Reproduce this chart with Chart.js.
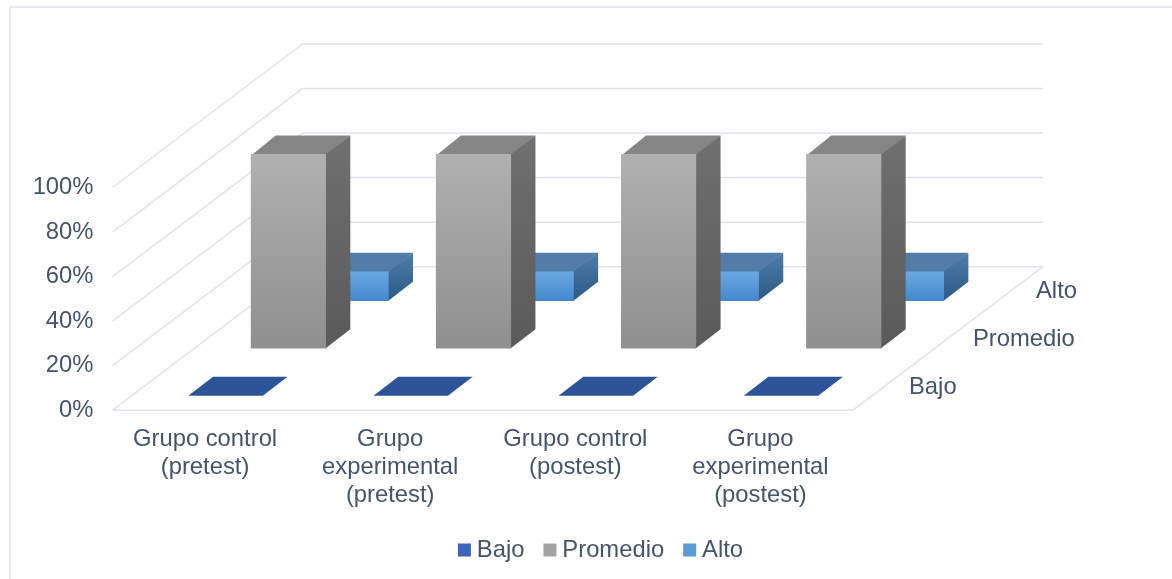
<!DOCTYPE html>
<html>
<head>
<meta charset="utf-8">
<script src="https://cdn.jsdelivr.net/npm/chart.js@4"></script>
<style>html,body{margin:0;padding:0;background:#fff}canvas{display:block}</style>
</head>
<body>
<canvas id="c" width="1172" height="579"></canvas>
<script>
const categories = [["Grupo control","(pretest)"],["Grupo","experimental","(pretest)"],["Grupo control","(postest)"],["Grupo","experimental","(postest)"]];
const seriesNames = ["Bajo","Promedio","Alto"];
const bajo = [0,0,0,0];
const promedio = [87,87,87,87];
const alto = [13,13,13,13];
const yTicks = [0,20,40,60,80,100];

const TEXT = "#44546A", GRID = "#DFE3EA", FONT = "'Liberation Sans', Arial, sans-serif", SIZE = 23.8;
const depthOffset = [{x:20.5,y:-14.5},{x:83.3,y:-62},{x:146,y:-109.5}];
const barDepth = {x:24.7,y:-19};
const wall = {x:190,y:-143.5};
const legendShift = 177;
const faces = [
  {top:"#2C5497",front:["#3C66BB","#3C66BB"],side:["#2C5497","#2C5497"],legend:"#3C66BB"},
  {top:"#858585",front:["#B0B0B0","#8F8F8F"],side:["#707070","#5A5A5A"],legend:"#A3A3A3"},
  {top:"#537DA8",front:["#6AA8E4","#4488CC"],side:["#4F7DA9","#2C5A85"],legend:"#5B9BD5"}
];
const zLabelPos = [{x:909,y:387},{x:973,y:339},{x:1036,y:291}];

function vGrad(ctx,y0,y1,c){const g=ctx.createLinearGradient(0,y0,0,y1);g.addColorStop(0,c[0]);g.addColorStop(1,c[1]);return g;}

const scene = {
  id:"scene",
  afterLayout(chart){chart.legend.left+=legendShift;chart.legend.right+=legendShift;},
  beforeDraw(chart){
    const ctx=chart.ctx;
    ctx.save();
    ctx.strokeStyle=GRID;ctx.lineWidth=1.5;
    ctx.beginPath();ctx.moveTo(10,579);ctx.lineTo(10,7);ctx.lineTo(1172,7);ctx.stroke();
    ctx.restore();
  },
  beforeDatasetsDraw(chart){
    const ctx=chart.ctx,{y:sy}=chart.scales;
    const l=chart.chartArea.left,r=chart.chartArea.right;
    ctx.save();
    ctx.strokeStyle=GRID;ctx.lineWidth=1.5;ctx.beginPath();
    yTicks.forEach(v=>{
      const y=sy.getPixelForValue(v);
      ctx.moveTo(l,y);ctx.lineTo(l+wall.x,y+wall.y);ctx.lineTo(r+wall.x,y+wall.y);
    });
    const y0=sy.getPixelForValue(0);
    ctx.moveTo(l,y0);ctx.lineTo(r,y0);ctx.lineTo(r+wall.x,y0+wall.y);
    ctx.stroke();
    ctx.fillStyle=TEXT;ctx.font=SIZE+"px "+FONT;ctx.textBaseline="middle";ctx.textAlign="left";
    seriesNames.forEach((n,i)=>ctx.fillText(n,zLabelPos[i].x,zLabelPos[i].y));
    ctx.restore();
  },
  beforeDatasetDraw(chart,args){
    const i=args.index,ctx=chart.ctx,o=depthOffset[i],f=faces[i];
    ctx.save();
    ctx.translate(o.x,o.y);
    args.meta.data.forEach(el=>{
      const L=el.x-el.width/2,R=el.x+el.width/2,T=el.y,B=el.base,solid=B-T>0.5,lap=solid?1:0;
      ctx.fillStyle=f.top;ctx.beginPath();
      ctx.moveTo(L,T+lap);ctx.lineTo(L+barDepth.x,T+barDepth.y);ctx.lineTo(R+barDepth.x,T+barDepth.y);ctx.lineTo(R,T+lap);ctx.closePath();ctx.fill();
      if(solid){
        ctx.fillStyle=vGrad(ctx,T+barDepth.y,B,f.side);ctx.beginPath();
        ctx.moveTo(R-1,T);ctx.lineTo(R,T);ctx.lineTo(R+barDepth.x,T+barDepth.y);ctx.lineTo(R+barDepth.x,B+barDepth.y);ctx.lineTo(R,B);ctx.lineTo(R-1,B);ctx.closePath();ctx.fill();
      }
    });
  },
  afterDatasetDraw(chart){chart.ctx.restore();}
};

function frontFill(i){
  return c=>{
    const a=c.chart.chartArea;
    if(!a||c.type!=="data") return faces[i].legend;
    const s=c.chart.scales.y;
    return vGrad(c.chart.ctx,s.getPixelForValue(c.raw),s.getPixelForValue(0),faces[i].front);
  };
}

Chart.defaults.font.family=FONT;
new Chart(document.getElementById("c"),{
  type:"bar",
  data:{labels:categories,datasets:[bajo,promedio,alto].map((d,i)=>({
    label:seriesNames[i],data:d,backgroundColor:frontFill(i),borderWidth:0,clip:false,
    barThickness:74.5,grouped:false
  }))},
  options:{
    responsive:false,animation:false,
    layout:{padding:{left:0,right:319,top:187.5,bottom:7}},
    plugins:{
      tooltip:{enabled:false},
      legend:{position:"bottom",labels:{color:TEXT,font:{size:SIZE},usePointStyle:true,pointStyle:"rect",boxWidth:1,boxHeight:13,padding:25,
        generateLabels(chart){
          return Chart.defaults.plugins.legend.labels.generateLabels(chart).map((l,i)=>Object.assign(l,{fillStyle:faces[i].legend,strokeStyle:faces[i].legend,lineWidth:0}));
        }}}
    },
    scales:{
      x:{grid:{display:false},border:{display:false},
        ticks:{color:TEXT,font:{size:SIZE,lineHeight:1.18},padding:7.5,maxRotation:0,autoSkip:false},
        afterFit(s){s.height=103;}},
      y:{min:0,max:100,grid:{display:false},border:{display:false},
        afterBuildTicks(s){s.ticks=yTicks.map(v=>({value:v}));},
        ticks:{color:TEXT,font:{size:SIZE},padding:11,callback:v=>v+"%"},
        afterFit(s){s.width=112.5;}}
    }
  },
  plugins:[scene]
});
</script>
</body>
</html>
